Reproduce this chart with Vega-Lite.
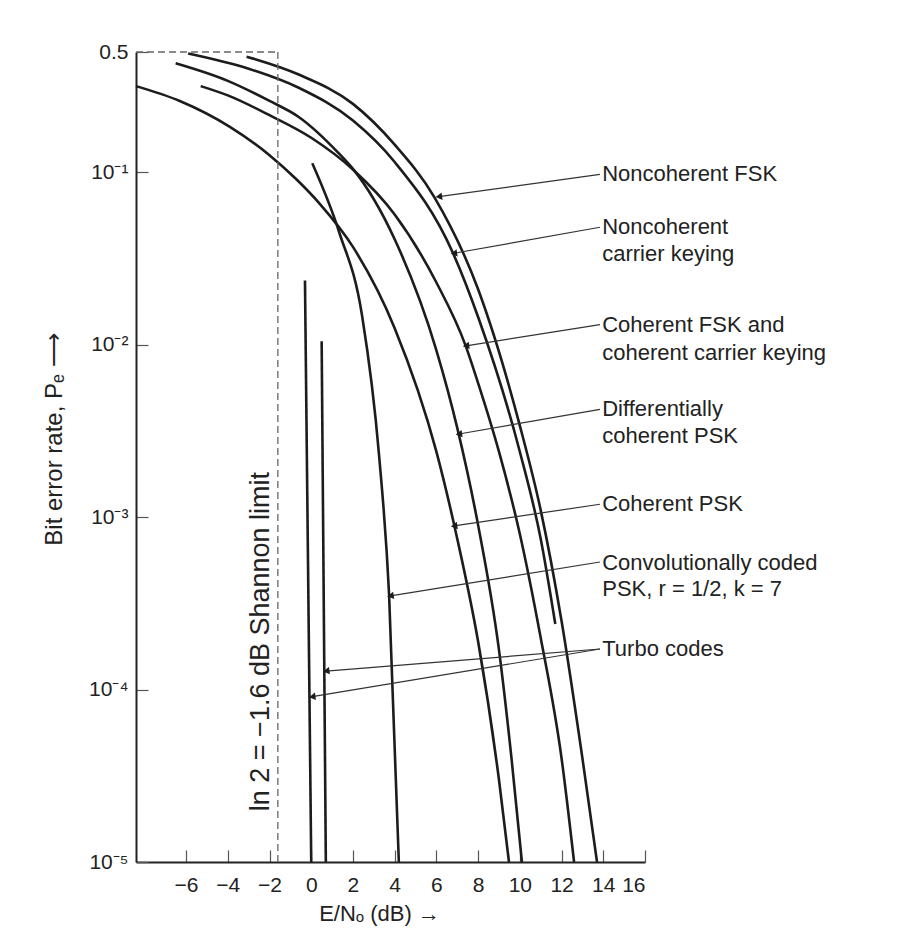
{
  "$schema": "https://vega.github.io/schema/vega-lite/v6.json",
  "width": 509,
  "height": 810,
  "autosize": {"type": "none"},
  "padding": {"left": 136, "top": 52, "right": 272, "bottom": 83},
  "background": "white",
  "config": {"view": {"stroke": null}, "font": "Liberation Sans"},
  "datasets": {
    "curves": [
      {"series": "Coherent PSK", "db": -8.4, "pe": 0.317},
      {"series": "Coherent PSK", "db": -6.3, "pe": 0.26},
      {"series": "Coherent PSK", "db": -3.9, "pe": 0.184},
      {"series": "Coherent PSK", "db": -2.0, "pe": 0.126},
      {"series": "Coherent PSK", "db": -0.7, "pe": 0.091},
      {"series": "Coherent PSK", "db": 0.4, "pe": 0.066},
      {"series": "Coherent PSK", "db": 2, "pe": 0.037},
      {"series": "Coherent PSK", "db": 4, "pe": 0.0125},
      {"series": "Coherent PSK", "db": 6, "pe": 0.0024},
      {"series": "Coherent PSK", "db": 7, "pe": 0.00075},
      {"series": "Coherent PSK", "db": 8, "pe": 0.00019},
      {"series": "Coherent PSK", "db": 9, "pe": 0.00003},
      {"series": "Coherent PSK", "db": 9.48, "pe": 0.00001},
      {"series": "Differentially coherent PSK", "db": -6.5, "pe": 0.43},
      {"series": "Differentially coherent PSK", "db": -4, "pe": 0.34},
      {"series": "Differentially coherent PSK", "db": -2, "pe": 0.26},
      {"series": "Differentially coherent PSK", "db": -0.6, "pe": 0.21},
      {"series": "Differentially coherent PSK", "db": 1.3, "pe": 0.13},
      {"series": "Differentially coherent PSK", "db": 2, "pe": 0.105},
      {"series": "Differentially coherent PSK", "db": 4, "pe": 0.041},
      {"series": "Differentially coherent PSK", "db": 6, "pe": 0.0093},
      {"series": "Differentially coherent PSK", "db": 7, "pe": 0.0033},
      {"series": "Differentially coherent PSK", "db": 8, "pe": 0.0009},
      {"series": "Differentially coherent PSK", "db": 9, "pe": 0.00017},
      {"series": "Differentially coherent PSK", "db": 9.6, "pe": 0.00004},
      {"series": "Differentially coherent PSK", "db": 10.1, "pe": 0.00001},
      {"series": "Coherent FSK", "db": -5.3, "pe": 0.317},
      {"series": "Coherent FSK", "db": -4, "pe": 0.28},
      {"series": "Coherent FSK", "db": -2, "pe": 0.215},
      {"series": "Coherent FSK", "db": 0, "pe": 0.159},
      {"series": "Coherent FSK", "db": 2, "pe": 0.104},
      {"series": "Coherent FSK", "db": 4, "pe": 0.057},
      {"series": "Coherent FSK", "db": 6, "pe": 0.023},
      {"series": "Coherent FSK", "db": 7.4, "pe": 0.0099},
      {"series": "Coherent FSK", "db": 8, "pe": 0.006},
      {"series": "Coherent FSK", "db": 9, "pe": 0.0024},
      {"series": "Coherent FSK", "db": 10, "pe": 0.0008},
      {"series": "Coherent FSK", "db": 11, "pe": 0.0002},
      {"series": "Coherent FSK", "db": 12, "pe": 0.00004},
      {"series": "Coherent FSK", "db": 12.6, "pe": 0.00001},
      {"series": "Noncoherent carrier keying", "db": -5.9, "pe": 0.49},
      {"series": "Noncoherent carrier keying", "db": -3, "pe": 0.4},
      {"series": "Noncoherent carrier keying", "db": -0.6, "pe": 0.31},
      {"series": "Noncoherent carrier keying", "db": 2, "pe": 0.2},
      {"series": "Noncoherent carrier keying", "db": 4, "pe": 0.115},
      {"series": "Noncoherent carrier keying", "db": 6.8, "pe": 0.034},
      {"series": "Noncoherent carrier keying", "db": 8, "pe": 0.0145},
      {"series": "Noncoherent carrier keying", "db": 10, "pe": 0.0024},
      {"series": "Noncoherent carrier keying", "db": 11, "pe": 0.00075},
      {"series": "Noncoherent carrier keying", "db": 11.7, "pe": 0.00024},
      {"series": "Noncoherent FSK", "db": -3.1, "pe": 0.47},
      {"series": "Noncoherent FSK", "db": -0.6, "pe": 0.37},
      {"series": "Noncoherent FSK", "db": 2, "pe": 0.25},
      {"series": "Noncoherent FSK", "db": 4, "pe": 0.145},
      {"series": "Noncoherent FSK", "db": 5.9, "pe": 0.072},
      {"series": "Noncoherent FSK", "db": 8, "pe": 0.021},
      {"series": "Noncoherent FSK", "db": 10, "pe": 0.0034},
      {"series": "Noncoherent FSK", "db": 11, "pe": 0.0011},
      {"series": "Noncoherent FSK", "db": 12, "pe": 0.00025},
      {"series": "Noncoherent FSK", "db": 13, "pe": 0.00004},
      {"series": "Noncoherent FSK", "db": 13.7, "pe": 0.00001},
      {"series": "Convolutionally coded PSK", "db": 0.05, "pe": 0.113},
      {"series": "Convolutionally coded PSK", "db": 1.34, "pe": 0.045},
      {"series": "Convolutionally coded PSK", "db": 2.44, "pe": 0.0147},
      {"series": "Convolutionally coded PSK", "db": 3.25, "pe": 0.0023},
      {"series": "Convolutionally coded PSK", "db": 3.73, "pe": 0.00036},
      {"series": "Convolutionally coded PSK", "db": 4.2, "pe": 0.00001},
      {"series": "Turbo code A", "db": -0.3, "pe": 0.0236},
      {"series": "Turbo code A", "db": 0.0, "pe": 0.00001},
      {"series": "Turbo code B", "db": 0.5, "pe": 0.0105},
      {"series": "Turbo code B", "db": 0.7, "pe": 0.00001}
    ],
    "dashed": [
      {"db": -1.6, "pe": 0.5, "db2": -1.6, "pe2": 0.00001},
      {"db": -8.4, "pe": 0.5, "db2": -1.6, "pe2": 0.5}
    ],
    "leaders": [
      {"db": 6.12, "pe": 0.0724, "db2": 13.84, "pe2": 0.0975},
      {"db": 6.84, "pe": 0.034, "db2": 13.84, "pe2": 0.0481},
      {"db": 7.42, "pe": 0.00987, "db2": 13.84, "pe2": 0.0131},
      {"db": 7.08, "pe": 0.00304, "db2": 13.84, "pe2": 0.00422},
      {"db": 6.85, "pe": 0.00089, "db2": 13.84, "pe2": 0.00119},
      {"db": 3.8, "pe": 0.00035, "db2": 13.84, "pe2": 0.00055},
      {"db": 0.72, "pe": 0.000128, "db2": 13.84, "pe2": 0.000172},
      {"db": 0.05, "pe": 0.000091, "db2": 13.84, "pe2": 0.000172}
    ],
    "labels": [
      {"label": "Noncoherent FSK", "db": 13.95, "pe": 0.0975},
      {"label": "Noncoherent", "db": 13.95, "pe": 0.0481},
      {"label": "carrier keying", "db": 13.95, "pe": 0.0335},
      {"label": "Coherent FSK and", "db": 13.95, "pe": 0.0131},
      {"label": "coherent carrier keying", "db": 13.95, "pe": 0.009},
      {"label": "Differentially", "db": 13.95, "pe": 0.00422},
      {"label": "coherent PSK", "db": 13.95, "pe": 0.00296},
      {"label": "Coherent PSK", "db": 13.95, "pe": 0.00119},
      {"label": "Convolutionally coded", "db": 13.95, "pe": 0.000546},
      {"label": "PSK, r = 1/2, k = 7", "db": 13.95, "pe": 0.000381},
      {"label": "Turbo codes", "db": 13.95, "pe": 0.000172}
    ],
    "shannon": [
      {"label": "ln 2 = −1.6 dB Shannon limit", "db": -2.4, "pe": 0.00019}
    ]
  },
  "layer": [
    {
      "data": {"name": "curves"},
      "mark": {"type": "line", "interpolate": "monotone", "color": "#1c1c1c", "strokeWidth": 2.6},
      "encoding": {
        "x": {
          "field": "db", "type": "quantitative",
          "scale": {"domain": [-8.4, 16], "nice": false, "zero": false},
          "axis": {
            "values": [-6, -4, -2, 0, 2, 4, 6, 8, 10, 12, 14, 16],
            "tickSize": -12, "tickColor": "#555", "tickWidth": 1.2,
            "domainColor": "#222", "domainWidth": 2,
            "labelFontSize": 21, "labelColor": "#222", "labelPadding": 24,
            "grid": false,
            "title": "E/Nₒ (dB) →", "titleFontSize": 22, "titleFontWeight": "normal",
            "titleColor": "#222", "titlePadding": 8, "titleX": 243
          }
        },
        "y": {
          "field": "pe", "type": "quantitative",
          "scale": {"type": "log", "domain": [0.00001, 0.5], "nice": false},
          "axis": {
            "values": [0.5, 0.1, 0.01, 0.001, 0.0001, 0.00001],
            "labelExpr": "datum.value > 0.3 ? '0.5' : datum.value > 0.05 ? '10⁻¹' : datum.value > 0.005 ? '10⁻²' : datum.value > 0.0005 ? '10⁻³' : datum.value > 0.00005 ? '10⁻⁴' : '10⁻⁵'",
            "tickSize": -12, "tickColor": "#555", "tickWidth": 1.2,
            "domainColor": "#222", "domainWidth": 2,
            "labelFontSize": 21, "labelColor": "#222", "labelPadding": 20,
            "grid": false,
            "title": "Bit error rate, Pₑ ⟶", "titleFontSize": 24, "titleFontWeight": "normal",
            "titleColor": "#222", "titleX": -82, "titleY": 387,
            "titleAngle": 270, "titleAlign": "center", "titleBaseline": "middle"
          }
        },
        "detail": {"field": "series"}
      }
    },
    {
      "data": {"name": "dashed"},
      "mark": {"type": "rule", "strokeDash": [7, 4], "color": "#666", "strokeWidth": 1.3},
      "encoding": {
        "x": {"field": "db", "type": "quantitative"},
        "y": {"field": "pe", "type": "quantitative"},
        "x2": {"field": "db2"},
        "y2": {"field": "pe2"}
      }
    },
    {
      "data": {"name": "leaders"},
      "mark": {"type": "rule", "color": "#333", "strokeWidth": 1.2},
      "encoding": {
        "x": {"field": "db", "type": "quantitative"},
        "y": {"field": "pe", "type": "quantitative"},
        "x2": {"field": "db2"},
        "y2": {"field": "pe2"}
      }
    },
    {
      "data": {"name": "leaders"},
      "mark": {"type": "point", "shape": "triangle-left", "filled": true, "size": 55, "color": "#1c1c1c", "opacity": 1, "angle": -8},
      "encoding": {
        "x": {"field": "db", "type": "quantitative"},
        "y": {"field": "pe", "type": "quantitative"}
      }
    },
    {
      "data": {"name": "labels"},
      "mark": {"type": "text", "align": "left", "baseline": "middle", "fontSize": 22, "color": "#222"},
      "encoding": {
        "x": {"field": "db", "type": "quantitative"},
        "y": {"field": "pe", "type": "quantitative"},
        "text": {"field": "label"}
      }
    },
    {
      "data": {"name": "shannon"},
      "mark": {"type": "text", "align": "center", "baseline": "middle", "angle": 270, "fontSize": 27, "color": "#222"},
      "encoding": {
        "x": {"field": "db", "type": "quantitative"},
        "y": {"field": "pe", "type": "quantitative"},
        "text": {"field": "label"}
      }
    }
  ]
}
